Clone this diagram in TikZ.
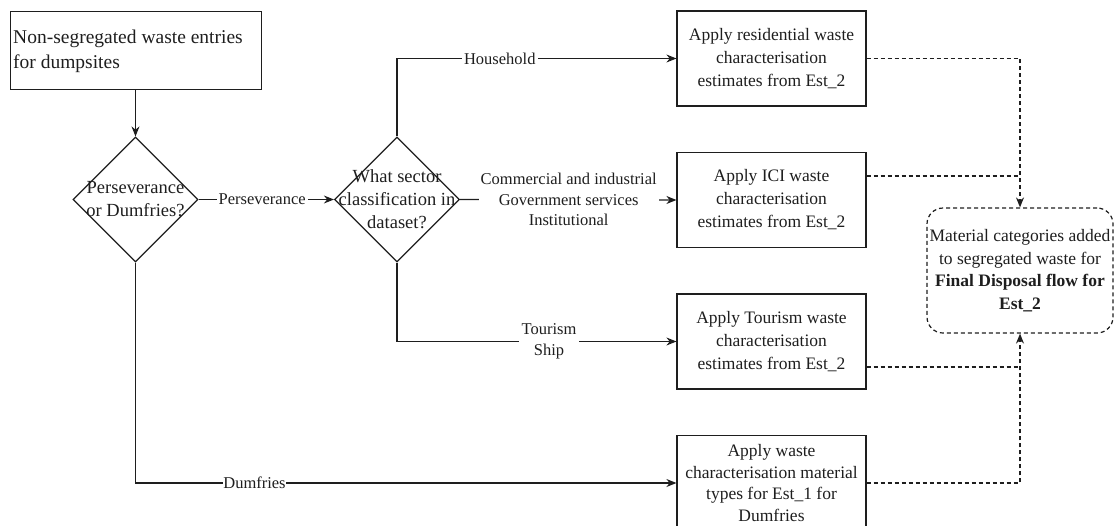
\documentclass[tikz,border=0pt]{standalone}
\usepackage{fontspec}
\setmainfont{Liberation Serif}
\usetikzlibrary{arrows.meta,shapes.geometric,calc}
\definecolor{ink}{HTML}{1E1E1E}
\begin{document}
\begin{tikzpicture}[x=1pt,y=-1pt,
  every node/.style={text=ink},
  flow/.style={draw=ink, line width=1.2pt},
  arr/.style={flow, -{Stealth[length=10pt,width=8pt]}},
  dashline/.style={flow, dash pattern=on 4pt off 3pt},
  darr/.style={dashline, -{Stealth[length=10pt,width=8pt]}},
  stepbox/.style={draw=ink, line width=1.2pt, minimum width=189pt, minimum height=95pt,
    inner sep=0pt, align=center, font=\fontsize{17.5}{23}\selectfont},
  decision/.style={diamond, draw=ink, line width=1.2pt, minimum width=125pt,
    minimum height=125pt, inner sep=0pt},
  dtext/.style={align=center, font=\fontsize{18.5}{23}\selectfont},
  elabel/.style={fill=white, inner xsep=2pt, inner ysep=1pt, align=center,
    font=\fontsize{16.5}{20.5}\selectfont},
]
\useasboundingbox (0,0) rectangle (1115,525);
\clip (0,0) rectangle (1115,525);

% start box
\node (start) [draw=ink, line width=1.2pt, minimum width=251pt, minimum height=78pt,
  inner sep=0pt] at (136.2,50.8) {};
\node (starttxt) [anchor=west, align=left, inner sep=0pt,
  font=\fontsize{19.5}{25}\selectfont] at (13,51)
  {Non-segregated waste entries\\for dumpsites};

% decisions
\node (d1) [decision] at (135.5,199.5) {};
\node (d1txt) [dtext] at (d1) {Perseverance\\or Dumfries?};
\node (d2) [decision] at (397,199.5) {};
\node (d2txt) [dtext] at (d2) {What sector\\classification in\\dataset?};

% process boxes
\node (b1) [stepbox] at (771.5,58.5)
  {Apply residential waste\\characterisation\\estimates from Est\_2};
\node (b2) [stepbox] at (771.5,200)
  {Apply ICI waste\\characterisation\\estimates from Est\_2};
\node (b3) [stepbox] at (771.5,341.5)
  {Apply Tourism waste\\characterisation\\estimates from Est\_2};
\node (b4) [stepbox, font=\fontsize{17.5}{21.5}\selectfont] at (771.5,483)
  {Apply waste\\characterisation material\\types for Est\_1 for\\Dumfries};

% result
\node (fin) [draw=ink, line width=1.2pt, dash pattern=on 4pt off 3pt,
  rounded corners=16pt, minimum width=186pt, minimum height=125pt, inner sep=0pt,
  align=center, font=\fontsize{17.5}{22.5}\selectfont] at (1020,270.5)
  {Material categories added\\to segregated waste for\\\textbf{Final Disposal flow for}\\\textbf{Est\_2}};

% solid connectors
\draw[arr] (start.south -| d1.north) -- (d1.north);
\draw[arr] (d1.east) -- node[elabel, pos=0.47] (lp) {Perseverance} (d2.west);
\draw[arr] (d2.north) |- node[elabel, pos=0.684] (lh) {Household} (b1.west);
\draw[arr] (d2.east) -- node[elabel, pos=0.502] (li)
  {Commercial and industrial\\Government services\\Institutional} (b2.west);
\draw[arr] (d2.south) |- node[elabel, pos=0.772, inner xsep=3pt] (lt) {Tourism\\Ship} (b3.west);
\draw[arr] (d1.south) |- node[elabel, pos=0.61, inner xsep=0.5pt] (ld) {Dumfries} (b4.west);

% dashed connectors into the result
\coordinate (o2) at ($(b2.east)+(0,-24)$);
\coordinate (o3) at ($(b3.east)+(0,25.5)$);
\draw[darr] (b1.east) -| (fin.north);
\draw[dashline] (o2) -- (o2 -| fin.north);
\draw[dashline] (o3) -- (o3 -| fin.south);
\draw[darr] (b4.east) -| (fin.south);
\end{tikzpicture}
\end{document}
